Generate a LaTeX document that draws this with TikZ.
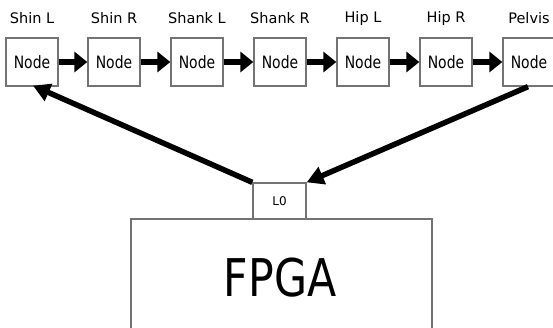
\documentclass[tikz,border=0pt]{standalone}
\usepackage{fontspec}
\setmainfont{DejaVu Sans}
\usetikzlibrary{arrows.meta}
\begin{document}
\begin{tikzpicture}[x=1pt,y=-1pt,
  nodebox/.style={draw=black!55,line width=1.3pt,minimum width=52pt,minimum height=48pt,inner sep=0pt},
  lbl/.style={font=\fontsize{14.5}{15}\selectfont,inner sep=0pt},
  chain/.style={line width=6.5pt,-{Triangle[length=13pt,width=20pt]}},
  longarr/.style={line width=5.5pt,-{Triangle[length=17pt,width=18pt]}}]
\useasboundingbox (0,0) rectangle (553,327);
\clip (0,0) rectangle (553,327);
\foreach \i/\x/\t in {1/32/Shin L,2/114/Shin R,3/197/Shank L,4/280/Shank R,5/363/Hip L,6/446/Hip R,7/529/Pelvis}{
  \node[nodebox] (n\i) at (\x,62) {\scalebox{0.82}[1]{\fontsize{17}{17}\selectfont Node}};
  \node[lbl] (t\i) at (\x,18) {\t};
}
\foreach \a/\b in {1/2,2/3,3/4,4/5,5/6,6/7}{
  \draw[chain] (n\a.east) -- (n\b.west);
}
\node[draw=black!55,line width=1.3pt,minimum width=53pt,minimum height=36pt,inner sep=0pt] (L0) at (279.5,201) {\fontsize{12}{12}\selectfont L0};
\draw[draw=black!55,line width=1.3pt] (131,219) rectangle (432,345);
\node[inner sep=0pt] (fpga) at (280,278) {\scalebox{0.82}[1]{\fontsize{52}{52}\selectfont FPGA}};
\draw[longarr] (L0.north west) -- ([xshift=1pt,yshift=1pt]n1.south);
\draw[longarr] ([xshift=-1pt]n7.south) -- (L0.north east);
\end{tikzpicture}
\end{document}
